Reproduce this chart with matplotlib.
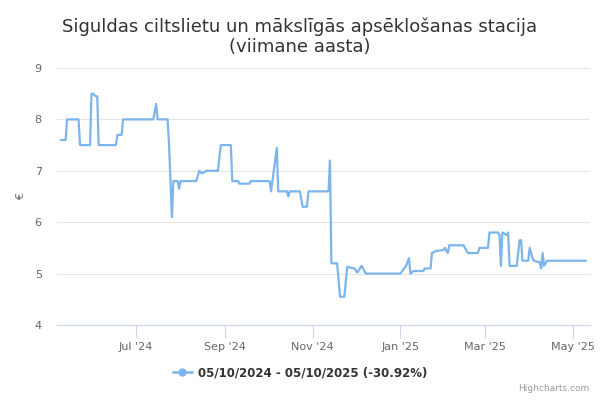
import matplotlib
matplotlib.use("Agg")
import matplotlib.pyplot as plt
import matplotlib.dates as mdates
import pandas as pd

# price history
dates = [
    "2024-05-10", "2024-05-13", "2024-05-14", "2024-05-22", "2024-05-23",
    "2024-05-30", "2024-05-31", "2024-06-01", "2024-06-03", "2024-06-04",
    "2024-06-05", "2024-06-17", "2024-06-18", "2024-06-21", "2024-06-22",
    "2024-07-13", "2024-07-15", "2024-07-16", "2024-07-23", "2024-07-24",
    "2024-07-26", "2024-07-27", "2024-07-30", "2024-07-31", "2024-08-01",
    "2024-08-12", "2024-08-14", "2024-08-16", "2024-08-19", "2024-08-27",
    "2024-08-29", "2024-09-05", "2024-09-06", "2024-09-10", "2024-09-11",
    "2024-09-18", "2024-09-19", "2024-10-02", "2024-10-03", "2024-10-07",
    "2024-10-08", "2024-10-14", "2024-10-15", "2024-10-16", "2024-10-23",
    "2024-10-25", "2024-10-28", "2024-10-29", "2024-11-12", "2024-11-13",
    "2024-11-14", "2024-11-18", "2024-11-20", "2024-11-23", "2024-11-25",
    "2024-11-30", "2024-12-02", "2024-12-05", "2024-12-08", "2025-01-01",
    "2025-01-05", "2025-01-07", "2025-01-08", "2025-01-10", "2025-01-17",
    "2025-01-18", "2025-01-22", "2025-01-23", "2025-01-26", "2025-01-31",
    "2025-02-01", "2025-02-03", "2025-02-04", "2025-02-14", "2025-02-17",
    "2025-02-24", "2025-02-25", "2025-03-03", "2025-03-04", "2025-03-10",
    "2025-03-11", "2025-03-12", "2025-03-13", "2025-03-16", "2025-03-17",
    "2025-03-18", "2025-03-23", "2025-03-25", "2025-03-26", "2025-03-27",
    "2025-03-31", "2025-04-01", "2025-04-03", "2025-04-04", "2025-04-08",
    "2025-04-09", "2025-04-10", "2025-04-11", "2025-04-13", "2025-05-10",
]
prices = [
    7.6, 7.6, 8.0, 8.0, 7.5,
    7.5, 8.5, 8.5, 8.45, 8.45,
    7.5, 7.5, 7.7, 7.7, 8.0,
    8.0, 8.3, 8.0, 8.0, 7.5,
    6.1, 6.8, 6.8, 6.65, 6.8,
    6.8, 7.0, 6.95, 7.0, 7.0,
    7.5, 7.5, 6.8, 6.8, 6.75,
    6.75, 6.8, 6.8, 6.6, 7.45,
    6.6, 6.6, 6.5, 6.6, 6.6,
    6.3, 6.3, 6.6, 6.6, 7.2,
    5.2, 5.2, 4.55, 4.55, 5.13,
    5.1, 5.02, 5.15, 5.0, 5.0,
    5.15, 5.3, 5.0, 5.05, 5.05,
    5.1, 5.1, 5.4, 5.44, 5.46,
    5.5, 5.4, 5.55, 5.55, 5.4,
    5.4, 5.5, 5.5, 5.8, 5.8,
    5.75, 5.15, 5.8, 5.75, 5.8,
    5.15, 5.15, 5.65, 5.65, 5.25,
    5.25, 5.5, 5.3, 5.25, 5.22,
    5.1, 5.4, 5.15, 5.25, 5.25,
]
y_ticks = [4, 5, 6, 7, 8, 9]
x_ticks = ["2024-07-01", "2024-09-01", "2024-11-01", "2025-01-01", "2025-03-01", "2025-05-01"]
x_labels = ["Jul '24", "Sep '24", "Nov '24", "Jan '25", "Mar '25", "May '25"]
title = "Siguldas ciltslietu un mākslīgās apsēklošanas stacija\n(viimane aasta)"
series_name = "05/10/2024 - 05/10/2025 (-30.92%)"

line_color = "#7cb5ec"
text_color = "#666666"

x = pd.to_datetime(dates)

fig = plt.figure(figsize=(6, 4), dpi=100)
ax = fig.add_axes([57 / 600, 1 - 325 / 400, 533 / 600, 257 / 400])

ax.plot(x, prices, color=line_color, linewidth=1.6, label=series_name, zorder=3)

ax.set_ylim(4, 9)
ax.set_yticks(y_ticks)
ax.set_xlim(pd.Timestamp("2024-05-07"), pd.Timestamp("2025-05-13"))
ax.set_xticks(pd.to_datetime(x_ticks))
ax.set_xticklabels(x_labels)

ax.grid(axis="y", color="#e6e6e6", linewidth=0.8)
ax.set_axisbelow(True)
for side in ["top", "right", "left"]:
    ax.spines[side].set_visible(False)
ax.spines["bottom"].set_color("#ccd6eb")
ax.tick_params(axis="x", colors="#ccd6eb", length=9, width=0.8, labelcolor=text_color,
               labelsize=8, pad=3)
ax.tick_params(axis="y", length=0, labelcolor=text_color, labelsize=8, pad=11)
ax.set_ylabel("€", color=text_color, fontsize=8, labelpad=6)

fig.text(0.5, 0.955, title, ha="center", va="top", fontsize=13, color="#333333",
         linespacing=1.1)

leg = fig.legend(loc="center", bbox_to_anchor=(0.5, 0.068), frameon=False,
                 prop={"weight": "bold", "size": 8.5}, handlelength=1.6, handletextpad=0.5)
for h in leg.get_lines():
    h.set_marker("o")
    h.set_markersize(5)
    h.set_linewidth(1.8)
for t in leg.get_texts():
    t.set_color("#333333")

fig.text(0.983, 0.018, "Highcharts.com", ha="right", va="bottom", fontsize=6.5, color="#999999")

fig.savefig("out.png", dpi=100)
